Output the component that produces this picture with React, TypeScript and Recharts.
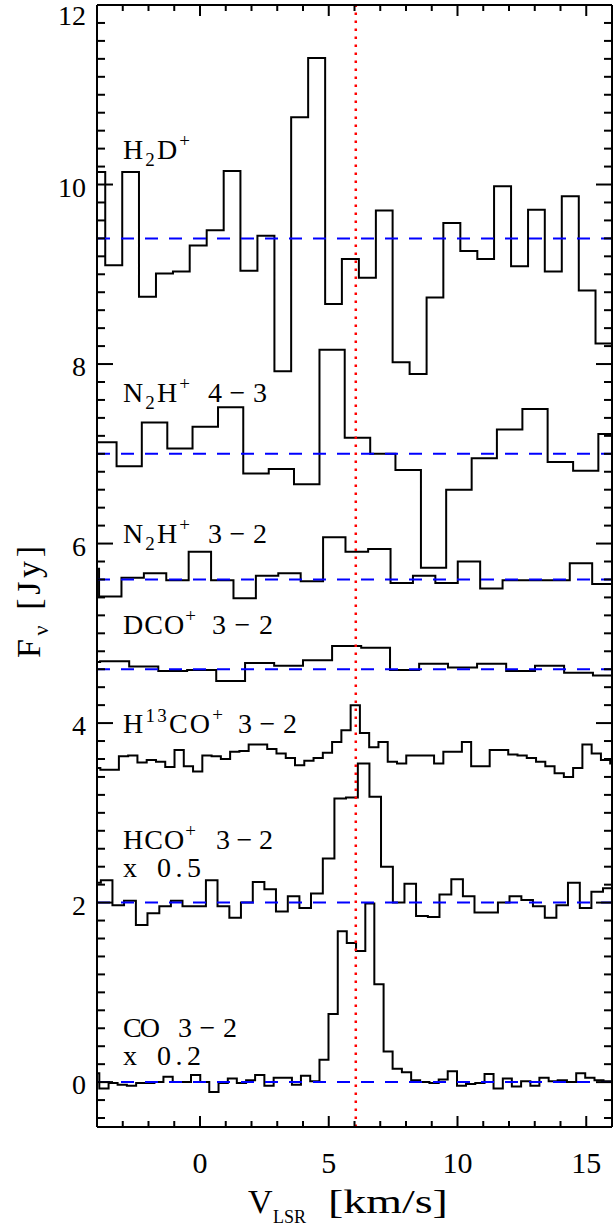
import React from 'react';
import { LineChart, Line, XAxis, YAxis, ReferenceLine } from 'recharts';

const FONT = '"Liberation Serif", "Times New Roman", serif';

// ---- spectra: channel edges (km/s) and flux per channel (Jy) ----
const h2dVel = [-4.34, -3.68, -3.02, -2.37, -1.71, -1.05, -0.4, 0.26, 0.92, 1.57, 2.23, 2.89, 3.54, 4.2, 4.86, 5.51, 6.17, 6.83, 7.48, 8.14, 8.8, 9.45, 10.11, 10.77, 11.42, 12.08, 12.74, 13.39, 14.05, 14.71, 15.36, 16.02];
const h2dFlux = [10.14, 9.1, 10.14, 8.75, 9.01, 9.03, 9.32, 9.49, 10.15, 9.04, 9.43, 7.92, 10.75, 11.41, 8.67, 9.17, 8.96, 9.71, 8.02, 7.89, 8.74, 9.57, 9.26, 9.17, 9.98, 9.09, 9.72, 9.03, 9.87, 8.82, 8.23];

const n2h43Vel = [-4.22, -3.24, -2.26, -1.27, -0.29, 0.7, 1.68, 2.67, 3.65, 4.64, 5.62, 6.61, 7.59, 8.58, 9.56, 10.55, 11.53, 12.52, 13.5, 14.49, 15.47, 16.46];
const n2h43Flux = [7.13, 6.86, 7.35, 7.06, 7.3, 7.52, 6.78, 6.83, 6.66, 8.16, 7.18, 7.0, 6.82, 5.73, 6.6, 6.95, 7.27, 7.5, 6.91, 6.81, 7.22];

const n2h32Vel = [-4.79, -3.92, -3.05, -2.18, -1.31, -0.44, 0.43, 1.3, 2.17, 3.04, 3.91, 4.78, 5.65, 6.53, 7.4, 8.27, 9.14, 10.01, 10.88, 11.75, 12.62, 13.49, 14.36, 15.23, 16.1];
const n2h32Flux = [5.72, 5.41, 5.62, 5.67, 5.59, 5.91, 5.59, 5.39, 5.64, 5.67, 5.58, 6.07, 5.91, 5.94, 5.56, 5.64, 5.56, 5.8, 5.5, 5.59, 5.59, 5.59, 5.78, 5.55];

const dcoVel = [-5.01, -3.88, -2.75, -1.62, -0.5, 0.63, 1.75, 2.88, 4.0, 5.13, 6.26, 7.38, 8.51, 9.63, 10.76, 11.89, 13.01, 14.14, 15.26, 16.39];
const dcoFlux = [4.68, 4.69, 4.63, 4.58, 4.59, 4.47, 4.67, 4.64, 4.7, 4.86, 4.84, 4.59, 4.66, 4.62, 4.66, 4.58, 4.64, 4.56, 4.53];

const h13coVel = [-4.23, -3.87, -3.51, -3.15, -2.79, -2.43, -2.07, -1.71, -1.35, -0.99, -0.63, -0.27, 0.09, 0.45, 0.81, 1.17, 1.53, 1.89, 2.25, 2.61, 2.97, 3.33, 3.69, 4.05, 4.41, 4.77, 5.13, 5.49, 5.85, 6.21, 6.57, 6.93, 7.29, 7.65, 8.01, 8.37, 8.73, 9.09, 9.45, 9.81, 10.17, 10.53, 10.89, 11.25, 11.61, 11.97, 12.33, 12.69, 13.05, 13.41, 13.77, 14.13, 14.49, 14.85, 15.21, 15.57, 15.93, 16.29];
const h13coFlux = [3.5, 3.48, 3.48, 3.63, 3.64, 3.56, 3.59, 3.57, 3.51, 3.7, 3.52, 3.46, 3.64, 3.63, 3.6, 3.68, 3.69, 3.76, 3.76, 3.71, 3.66, 3.61, 3.53, 3.58, 3.61, 3.67, 3.79, 3.92, 4.2, 3.89, 3.73, 3.79, 3.57, 3.55, 3.64, 3.64, 3.64, 3.55, 3.68, 3.68, 3.79, 3.52, 3.52, 3.7, 3.7, 3.65, 3.64, 3.61, 3.57, 3.52, 3.44, 3.4, 3.5, 3.76, 3.66, 3.59, 3.55];

const hcoVel = [-4.31, -3.85, -3.4, -2.95, -2.49, -2.04, -1.58, -1.13, -0.68, -0.22, 0.23, 0.68, 1.14, 1.59, 2.05, 2.5, 2.95, 3.41, 3.86, 4.31, 4.77, 5.22, 5.67, 6.13, 6.58, 7.03, 7.49, 7.94, 8.39, 8.85, 9.3, 9.76, 10.21, 10.66, 11.12, 11.57, 12.02, 12.48, 12.93, 13.39, 13.84, 14.29, 14.75, 15.2, 15.65, 16.11];
const hcoFlux = [2.22, 2.25, 1.97, 2.02, 1.75, 1.88, 1.96, 2.02, 1.96, 1.96, 2.25, 1.96, 1.83, 2.0, 2.23, 2.15, 1.9, 2.07, 1.94, 2.1, 2.49, 3.16, 3.17, 3.55, 3.18, 2.4, 2.0, 2.21, 1.85, 1.84, 2.09, 2.26, 2.07, 1.89, 1.89, 2.0, 2.07, 2.03, 1.96, 1.83, 1.97, 2.22, 1.94, 2.12, 2.16];

const coVel = [-4.26, -3.91, -3.55, -3.2, -2.84, -2.48, -2.13, -1.77, -1.42, -1.06, -0.7, -0.35, 0.01, 0.36, 0.72, 1.08, 1.43, 1.79, 2.14, 2.5, 2.86, 3.21, 3.57, 3.92, 4.28, 4.64, 4.99, 5.35, 5.7, 6.06, 6.42, 6.77, 7.13, 7.48, 7.84, 8.2, 8.55, 8.91, 9.27, 9.62, 9.98, 10.33, 10.69, 11.05, 11.4, 11.76, 12.11, 12.47, 12.83, 13.18, 13.54, 13.89, 14.25, 14.61, 14.96, 15.32, 15.67, 16.03];
const coFlux = [0.1, -0.07, -0.01, -0.03, -0.04, -0.01, -0.01, 0.0, 0.06, 0.0, 0.0, 0.08, 0.0, -0.11, -0.01, 0.04, -0.01, 0.02, 0.08, -0.04, 0.05, 0.05, -0.03, 0.07, 0.01, 0.25, 0.76, 1.68, 1.55, 1.46, 1.99, 1.09, 0.34, 0.15, 0.11, 0.02, 0.0, -0.01, 0.03, 0.12, -0.04, -0.02, -0.01, 0.09, -0.07, 0.04, -0.05, 0.01, -0.04, 0.05, 0.01, 0.02, 0.0, 0.1, 0.05, 0.02, 0.01];

// ---- baselines and source velocity ----
const h2dBase = 9.4;
const n2h43Base = 7.0;
const n2h32Base = 5.6;
const dcoBase = 4.6;
const hcoBase = 2.0;
const coBase = 0.0;
const vSource = 6.05;

// ---- axes ----
const xDomain = [-4, 16];
const yDomain = [-0.5, 12];
const xTicks = [-3, -2, -1, 0, 1, 2, 3, 4, 5, 6, 7, 8, 9, 10, 11, 12, 13, 14, 15];
const xMajorTicks = [0, 5, 10, 15];
const xTickLabels = ['0', '5', '10', '15'];
const yTicks = [-0.4, -0.2, 0, 0.2, 0.4, 0.6, 0.8, 1, 1.2, 1.4, 1.6, 1.8, 2, 2.2, 2.4, 2.6, 2.8, 3, 3.2, 3.4, 3.6, 3.8, 4, 4.2, 4.4, 4.6, 4.8, 5, 5.2, 5.4, 5.6, 5.8, 6, 6.2, 6.4, 6.6, 6.8, 7, 7.2, 7.4, 7.6, 7.8, 8, 8.2, 8.4, 8.6, 8.8, 9, 9.2, 9.4, 9.6, 9.8, 10, 10.2, 10.4, 10.6, 10.8, 11, 11.2, 11.4, 11.6, 11.8, 12];
const yMajorTicks = [0, 2, 4, 6, 8, 10, 12];
const yTickLabels = ['0', '2', '4', '6', '8', '10', '12'];

function toSteps(vel: number[], flux: number[]) {
  return vel.map((v, i) => ({ v, f: flux[Math.min(i, flux.length - 1)] }));
}

const spectra = [
  { id: 'h2d', data: toSteps(h2dVel, h2dFlux) },
  { id: 'n2h43', data: toSteps(n2h43Vel, n2h43Flux) },
  { id: 'n2h32', data: toSteps(n2h32Vel, n2h32Flux) },
  { id: 'dco', data: toSteps(dcoVel, dcoFlux) },
  { id: 'h13co', data: toSteps(h13coVel, h13coFlux) },
  { id: 'hco', data: toSteps(hcoVel, hcoFlux) },
  { id: 'co', data: toSteps(coVel, coFlux) },
];
const baselines = [h2dBase, n2h43Base, n2h32Base, dcoBase, hcoBase, coBase];

const majorIndexY = (v: number) => yMajorTicks.findIndex((m) => Math.abs(m - v) < 1e-6);

function BottomTick(props: any) {
  const { x, y, payload } = props;
  const idx = xMajorTicks.indexOf(payload.value);
  const major = idx >= 0;
  return (
    <g>
      <line x1={x} x2={x} y1={y} y2={y - (major ? 11 : 6)} stroke="#000" strokeWidth={2} />
      {major && (
        <text x={x} y={y + 46} textAnchor="middle" fontFamily={FONT} fontSize={30} fill="#000">
          {xTickLabels[idx]}
        </text>
      )}
    </g>
  );
}

function TopTick(props: any) {
  const { x, y, payload } = props;
  const major = xMajorTicks.indexOf(payload.value) >= 0;
  return <line x1={x} x2={x} y1={y} y2={y + (major ? 11 : 6)} stroke="#000" strokeWidth={2} />;
}

function LeftTick(props: any) {
  const { x, y, payload } = props;
  const idx = majorIndexY(payload.value);
  const major = idx >= 0;
  const isTop = idx === yMajorTicks.length - 1;
  return (
    <g>
      {!isTop && <line x1={x} x2={x + (major ? 16 : 8)} y1={y} y2={y} stroke="#000" strokeWidth={2} />}
      {major && (
        <text x={x - 11} y={y + (isTop ? 20 : 12)} textAnchor="end" fontFamily={FONT} fontSize={28} fill="#000">
          {yTickLabels[idx]}
        </text>
      )}
    </g>
  );
}

function RightTick(props: any) {
  const { x, y, payload } = props;
  const idx = majorIndexY(payload.value);
  const major = idx >= 0;
  if (idx === yMajorTicks.length - 1) return <g />;
  return <line x1={x} x2={x - (major ? 16 : 8)} y1={y} y2={y} stroke="#000" strokeWidth={2} />;
}

const SUB = 19;

function Labels() {
  const common = { fontFamily: FONT, fontSize: 28, fill: '#000', lengthAdjust: 'spacing' as const };
  return (
    <svg width={615} height={1231} style={{ position: 'absolute', left: 0, top: 0, pointerEvents: 'none' }}>
      {/* H2D+ */}
      <text x={123} y={159} textLength={67} {...common}>
        H<tspan fontSize={SUB} dy={7}>2</tspan><tspan dy={-7}>D</tspan><tspan fontSize={SUB} dy={-12}>+</tspan>
      </text>
      {/* N2H+ 4-3 */}
      <text x={123} y={402} textLength={67} {...common}>
        N<tspan fontSize={SUB} dy={7}>2</tspan><tspan dy={-7}>H</tspan><tspan fontSize={SUB} dy={-12}>+</tspan>
      </text>
      <text x={208} y={402} textLength={59} {...common}>4−3</text>
      {/* N2H+ 3-2 */}
      <text x={123} y={543} textLength={67} {...common}>
        N<tspan fontSize={SUB} dy={7}>2</tspan><tspan dy={-7}>H</tspan><tspan fontSize={SUB} dy={-12}>+</tspan>
      </text>
      <text x={208} y={543} textLength={59} {...common}>3−2</text>
      {/* DCO+ 3-2 */}
      <text x={123} y={634} textLength={73} {...common}>
        DCO<tspan fontSize={SUB} dy={-12}>+</tspan>
      </text>
      <text x={212} y={634} textLength={61} {...common}>3−2</text>
      {/* H13CO+ 3-2 */}
      <text x={123} y={733} textLength={100} {...common}>
        H<tspan fontSize={SUB} dy={-11}>13</tspan><tspan dy={11}>CO</tspan><tspan fontSize={SUB} dy={-12}>+</tspan>
      </text>
      <text x={238} y={733} textLength={59} {...common}>3−2</text>
      {/* HCO+ 3-2 x 0.5 */}
      <text x={123} y={849} textLength={73} {...common}>
        HCO<tspan fontSize={SUB} dy={-12}>+</tspan>
      </text>
      <text x={216} y={849} textLength={57} {...common}>3−2</text>
      <text x={123} y={877} {...common}>x</text>
      <text x={157} y={877} textLength={44} {...common}>0.5</text>
      {/* CO 3-2 x 0.2 */}
      <text x={123} y={1037} textLength={37} {...common}>CO</text>
      <text x={178} y={1037} textLength={59} {...common}>3−2</text>
      <text x={123} y={1065} {...common}>x</text>
      <text x={157} y={1065} textLength={44} {...common}>0.2</text>

      {/* x axis title */}
      <text x={248} y={1213} fontFamily={FONT} fontSize={34} fill="#000">V</text>
      <text x={273} y={1223} fontFamily={FONT} fontSize={18} fill="#000">LSR</text>
      <text x={0} y={0} transform="translate(328 1213) scale(1.35 1)" fontFamily={FONT} fontSize={34} fill="#000">[km/s]</text>
      {/* y axis title */}
      <text x={40} y={602} transform="rotate(-90 40 602)" textAnchor="middle" fontFamily={FONT} fontSize={34} fill="#000" textLength={112} lengthAdjust="spacing">
        F<tspan fontSize={22} dy={8}>ν</tspan><tspan dy={-8}> [Jy]</tspan>
      </text>
    </svg>
  );
}

const axisLineStyle = { stroke: '#000', strokeWidth: 2 };

export default function App() {
  return (
    <div style={{ position: 'absolute', left: 0, top: 0, width: 615, height: 1231, background: '#fff' }}>
      <LineChart width={615} height={1231} margin={{ top: 4, right: 2, bottom: 103, left: 96 }}>
        <XAxis
          xAxisId="b"
          type="number"
          dataKey="v"
          domain={xDomain}
          allowDataOverflow
          ticks={xTicks}
          interval={0}
          orientation="bottom"
          height={1}
          tickSize={0}
          tickMargin={0}
          tickLine={false}
          axisLine={axisLineStyle}
          tick={BottomTick}
        />
        <XAxis
          xAxisId="t"
          type="number"
          dataKey="v"
          domain={xDomain}
          allowDataOverflow
          ticks={xTicks}
          interval={0}
          orientation="top"
          height={1}
          tickSize={0}
          tickMargin={0}
          tickLine={false}
          axisLine={axisLineStyle}
          tick={TopTick}
        />
        <YAxis
          yAxisId="l"
          type="number"
          domain={yDomain}
          allowDataOverflow
          ticks={yTicks}
          interval={0}
          orientation="left"
          width={1}
          tickSize={0}
          tickMargin={0}
          tickLine={false}
          axisLine={axisLineStyle}
          tick={LeftTick}
        />
        <YAxis
          yAxisId="r"
          type="number"
          domain={yDomain}
          allowDataOverflow
          ticks={yTicks}
          interval={0}
          orientation="right"
          width={1}
          tickSize={0}
          tickMargin={0}
          tickLine={false}
          axisLine={axisLineStyle}
          tick={RightTick}
        />
        {spectra.map((s) => (
          <Line
            key={s.id}
            xAxisId="b"
            yAxisId="l"
            data={s.data}
            dataKey="f"
            type="stepAfter"
            stroke="#000"
            strokeWidth={2}
            dot={false}
            activeDot={false}
            isAnimationActive={false}
          />
        ))}
        {baselines.map((b, i) => (
          <ReferenceLine
            key={'b' + i}
            xAxisId="b"
            yAxisId="l"
            y={b}
            stroke="#0000ff"
            strokeWidth={2}
            strokeDasharray="13 11"
          />
        ))}
        <ReferenceLine xAxisId="b" yAxisId="l" x={vSource} stroke="#ff0000" strokeWidth={2.5} strokeDasharray="2.5 5.5" />
      </LineChart>
      <Labels />
    </div>
  );
}
